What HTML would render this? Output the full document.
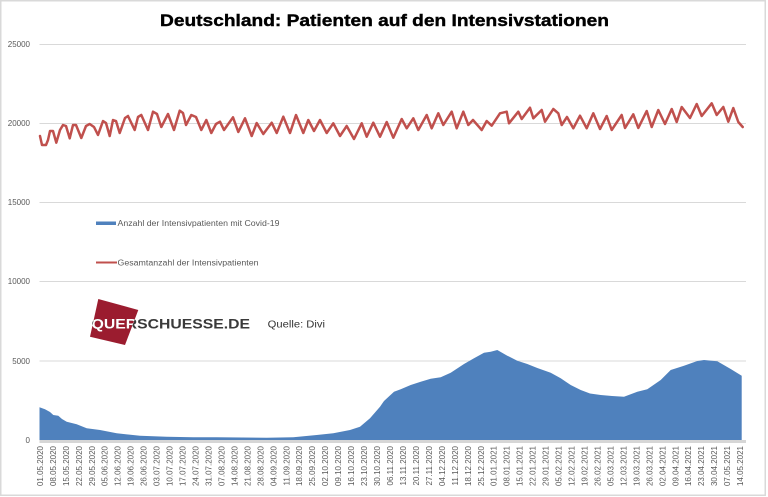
<!DOCTYPE html>
<html><head><meta charset="utf-8"><style>
html,body{margin:0;padding:0;background:#fff;}
svg{display:block;}
</style></head><body>
<svg width="768" height="497" viewBox="0 0 768 497" xmlns="http://www.w3.org/2000/svg">
<rect x="0" y="0" width="768" height="497" fill="#fff"/>
<rect x="0.75" y="0.75" width="764.5" height="494.5" fill="none" stroke="#d9d9d9" stroke-width="1.5"/>
<text x="384.5" y="26" text-anchor="middle" font-family="Liberation Sans, sans-serif" font-weight="bold" font-size="17" fill="#000" stroke="#000" stroke-width="0.4" textLength="449" lengthAdjust="spacingAndGlyphs">Deutschland:  Patienten  auf  den  Intensivstationen</text>
<g stroke="#d9d9d9" stroke-width="1">
<line x1="39.5" y1="44.5" x2="746" y2="44.5"/>
<line x1="39.5" y1="123.5" x2="746" y2="123.5"/>
<line x1="39.5" y1="202.5" x2="746" y2="202.5"/>
<line x1="39.5" y1="281.5" x2="746" y2="281.5"/>
<line x1="39.5" y1="361" x2="746" y2="361"/>
</g>
<g font-family="Liberation Sans, sans-serif" font-size="8" fill="#595959" text-anchor="end">
<text x="30" y="47">25000</text>
<text x="30" y="126">20000</text>
<text x="30" y="205">15000</text>
<text x="30" y="284">10000</text>
<text x="30" y="364">5000</text>
<text x="30" y="443">0</text>
</g>
<path fill="#4f81bd" d="M39.5,440 L39.5,407.3 L45,409.3 L50,412 L53.3,415 L58.3,415.7 L62,419 L66.7,421.7 L76.7,424.3 L86.7,428.3 L100,430 L116.7,433.3 L140,435.7 L166.7,436.7 L193.3,437.3 L216.7,437.3 L266.7,437.7 L293.3,437.3 L316.7,435 L333.3,433.3 L350,430 L360,426.7 L370,418.3 L380,406.7 L384,401 L394,391.7 L400.7,389.3 L410.7,385 L420.7,381.7 L430.7,378.7 L440.7,377.3 L450.7,372.7 L464,364 L474,358.3 L484,352.7 L490.7,351.7 L497.3,350 L507.3,355.7 L517.3,360.7 L527.3,364 L537.3,368 L550.7,372.7 L560.7,378.3 L570.7,385 L580.7,390 L590,393.5 L600.7,395 L612,396 L624,396.7 L637.3,391.7 L647.3,389.3 L660.7,380 L670.7,370 L684,365.7 L697.3,361 L704,360 L717.3,361.3 L730.7,369 L741.7,375.7 L741.7,440 Z"/>
<rect x="39.5" y="440" width="706.5" height="3" fill="#d6d6d6"/>
<polyline fill="none" stroke="#c0504d" stroke-width="2.5" stroke-linejoin="round" stroke-linecap="round" points="40,136 42,145 46,145 48,140 50,131 53,131 56.3,142.7 60,130 63,125 66,126 69.7,138.3 73,125 76,125 81.3,138 86,126 89.7,124 94,127 98,135 103,121 106,123 109.7,136 113,120 116,121 119.7,133 125,118 128,116 134.7,130 138,117 141.3,115 148,130 153,111.7 157,114 161.3,127 168,114 174,130 179.7,110.7 183,113 186,125 191.3,115 196,117 201.3,130 206.3,120 211.3,133 216,124 220,121.7 224,130 233,117.3 238.3,132 245,118.3 251.7,136 256.7,123 263.3,134 271.7,122.7 276.7,133 283.3,116.7 290,133 296,115 303.3,133 308.3,120 314,131 320,120 326.7,133 333.3,123.3 340,136 346.7,126 354,139 361.7,123.3 366.7,136.7 373.3,122.7 380,136.7 386.7,122 393.3,137.7 401.7,119 406.7,128.3 413.3,118.3 418.3,130 426.7,115 431.7,128.3 438.3,113.3 443.3,125 451.7,111.7 456.7,128.3 463.3,111.7 468.3,125 473,120 481.7,130 486.7,121 491.7,125.7 500,113.3 506.7,111.7 509,123.3 518.3,111.7 521.7,119 530,107.7 533.3,118.3 541.7,110 545,121.7 553.3,109 558.3,113.3 561.7,125 567,117 573.3,128.3 580,115.7 586.7,128.3 593.3,113.3 600,129 606.7,116 611.7,130 621.7,115 625,128 633.3,114.3 638.3,128 646.7,111 651.7,127 658.3,110 665,124 671.7,109 676.7,122 681.7,107 690,118 696.7,104 701.7,116 711.7,103.3 716.7,115 723.3,107 728.3,121.7 733.3,108 738.3,122 742.7,127"/>
<rect x="96" y="221.5" width="20" height="3.5" fill="#4f81bd"/>
<line x1="96" y1="262.5" x2="117" y2="262.5" stroke="#c0504d" stroke-width="2"/>
<g font-family="Liberation Sans, sans-serif" font-size="8" fill="#595959">
<text x="117.5" y="226" textLength="162" lengthAdjust="spacingAndGlyphs">Anzahl der Intensivpatienten mit Covid-19</text>
<text x="117.5" y="265.5" textLength="141" lengthAdjust="spacingAndGlyphs">Gesamtanzahl der Intensivpatienten</text>
</g>
<defs><clipPath id="sq"><polygon points="98.3,299 138.3,310 125,345 90,336.7"/></clipPath></defs>
<polygon points="98.3,299 138.3,310 125,345 90,336.7" fill="#9b1c2f"/>
<text x="91.7" y="328.3" font-family="Liberation Sans, sans-serif" font-weight="bold" font-size="14" fill="#3a3a3a" textLength="158.3" lengthAdjust="spacingAndGlyphs">QUERSCHUESSE.DE</text>
<text x="91.7" y="328.3" font-family="Liberation Sans, sans-serif" font-weight="bold" font-size="14" fill="#fff" textLength="158.3" lengthAdjust="spacingAndGlyphs" clip-path="url(#sq)">QUERSCHUESSE.DE</text>
<text x="267.7" y="327.7" font-family="Liberation Sans, sans-serif" font-size="10.5" fill="#333" textLength="57.3" lengthAdjust="spacingAndGlyphs">Quelle: Divi</text>
<g font-family="Liberation Sans, sans-serif" font-size="8" fill="#595959" text-anchor="end">
<text transform="translate(42.9,446) rotate(-90)">01.05.2020</text>
<text transform="translate(55.9,446) rotate(-90)">08.05.2020</text>
<text transform="translate(68.8,446) rotate(-90)">15.05.2020</text>
<text transform="translate(81.8,446) rotate(-90)">22.05.2020</text>
<text transform="translate(94.8,446) rotate(-90)">29.05.2020</text>
<text transform="translate(107.7,446) rotate(-90)">05.06.2020</text>
<text transform="translate(120.7,446) rotate(-90)">12.06.2020</text>
<text transform="translate(133.7,446) rotate(-90)">19.06.2020</text>
<text transform="translate(146.6,446) rotate(-90)">26.06.2020</text>
<text transform="translate(159.6,446) rotate(-90)">03.07.2020</text>
<text transform="translate(172.6,446) rotate(-90)">10.07.2020</text>
<text transform="translate(185.5,446) rotate(-90)">17.07.2020</text>
<text transform="translate(198.5,446) rotate(-90)">24.07.2020</text>
<text transform="translate(211.5,446) rotate(-90)">31.07.2020</text>
<text transform="translate(224.4,446) rotate(-90)">07.08.2020</text>
<text transform="translate(237.4,446) rotate(-90)">14.08.2020</text>
<text transform="translate(250.4,446) rotate(-90)">21.08.2020</text>
<text transform="translate(263.3,446) rotate(-90)">28.08.2020</text>
<text transform="translate(276.3,446) rotate(-90)">04.09.2020</text>
<text transform="translate(289.3,446) rotate(-90)">11.09.2020</text>
<text transform="translate(302.2,446) rotate(-90)">18.09.2020</text>
<text transform="translate(315.2,446) rotate(-90)">25.09.2020</text>
<text transform="translate(328.2,446) rotate(-90)">02.10.2020</text>
<text transform="translate(341.1,446) rotate(-90)">09.10.2020</text>
<text transform="translate(354.1,446) rotate(-90)">16.10.2020</text>
<text transform="translate(367.1,446) rotate(-90)">23.10.2020</text>
<text transform="translate(380,446) rotate(-90)">30.10.2020</text>
<text transform="translate(393,446) rotate(-90)">06.11.2020</text>
<text transform="translate(406,446) rotate(-90)">13.11.2020</text>
<text transform="translate(418.9,446) rotate(-90)">20.11.2020</text>
<text transform="translate(431.9,446) rotate(-90)">27.11.2020</text>
<text transform="translate(444.9,446) rotate(-90)">04.12.2020</text>
<text transform="translate(457.8,446) rotate(-90)">11.12.2020</text>
<text transform="translate(470.8,446) rotate(-90)">18.12.2020</text>
<text transform="translate(483.8,446) rotate(-90)">25.12.2020</text>
<text transform="translate(496.7,446) rotate(-90)">01.01.2021</text>
<text transform="translate(509.7,446) rotate(-90)">08.01.2021</text>
<text transform="translate(522.7,446) rotate(-90)">15.01.2021</text>
<text transform="translate(535.6,446) rotate(-90)">22.01.2021</text>
<text transform="translate(548.6,446) rotate(-90)">29.01.2021</text>
<text transform="translate(561.6,446) rotate(-90)">05.02.2021</text>
<text transform="translate(574.5,446) rotate(-90)">12.02.2021</text>
<text transform="translate(587.5,446) rotate(-90)">19.02.2021</text>
<text transform="translate(600.5,446) rotate(-90)">26.02.2021</text>
<text transform="translate(613.4,446) rotate(-90)">05.03.2021</text>
<text transform="translate(626.4,446) rotate(-90)">12.03.2021</text>
<text transform="translate(639.4,446) rotate(-90)">19.03.2021</text>
<text transform="translate(652.3,446) rotate(-90)">26.03.2021</text>
<text transform="translate(665.3,446) rotate(-90)">02.04.2021</text>
<text transform="translate(678.3,446) rotate(-90)">09.04.2021</text>
<text transform="translate(691.2,446) rotate(-90)">16.04.2021</text>
<text transform="translate(704.2,446) rotate(-90)">23.04.2021</text>
<text transform="translate(717.2,446) rotate(-90)">30.04.2021</text>
<text transform="translate(730.1,446) rotate(-90)">07.05.2021</text>
<text transform="translate(743.1,446) rotate(-90)">14.05.2021</text>
</g>
</svg>
</body></html>
